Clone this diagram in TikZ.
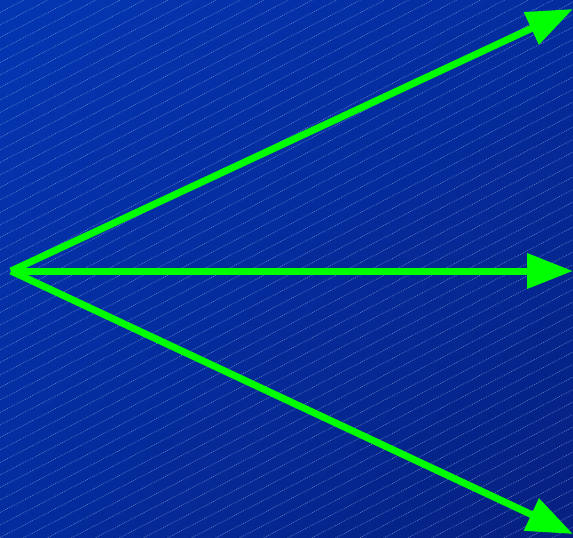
\documentclass[tikz,border=0pt]{standalone}
\usetikzlibrary{arrows.meta,shadings}
\definecolor{bgA}{RGB}{4,54,178}
\definecolor{bgB}{RGB}{4,44,158}
\definecolor{bgC}{RGB}{6,32,128}
\definecolor{arrowgreen}{RGB}{0,255,0}
\definecolor{hatch}{RGB}{150,175,230}
\tikzset{
  ray/.style={draw=arrowgreen, line width=7pt, line cap=butt,
    -{Triangle[length=46pt, width=34pt]}, arrowgreen},
  hatchline/.style={draw=hatch, line width=0.5pt, dash pattern=on 1pt off 1pt, opacity=0.7}
}
\begin{document}
\begin{tikzpicture}[x=1pt,y=-1pt]
\useasboundingbox (0,0) rectangle (573,538);
\shade[upper left=bgA, upper right=bgB, lower left=bgB, lower right=bgC] (0,0) rectangle (573,538);
\begin{scope}
\clip (0,0) rectangle (573,538);
\foreach \c in {-300,-287.5,...,900} {
  \draw[hatchline] (0,\c) -- (573,\c-298);
}
\end{scope}
\coordinate (o) at (11,271);
\coordinate (t1) at (573,9);
\coordinate (t2) at (573,271);
\coordinate (t3) at (573,534);
\draw[ray] (o) -- (t1);
\draw[ray] (o) -- (t2);
\draw[ray] (o) -- (t3);
\end{tikzpicture}
\end{document}
